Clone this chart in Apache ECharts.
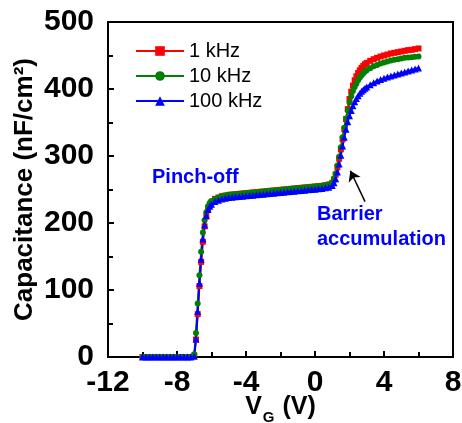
<!DOCTYPE html>
<html>
<head>
<meta charset="utf-8">
<script src="https://cdn.jsdelivr.net/npm/echarts@6/dist/echarts.min.js"></script>
<style>
  html, body { margin: 0; padding: 0; background: #fff; }
  #container { width: 462px; height: 423px; }
</style>
</head>
<body>
<div id="container"></div>
<script>
// gate voltage (V)
var vg = [
  -10.0, -9.8, -9.6, -9.4, -9.2, -9.0, -8.8, -8.6, -8.4, -8.2, -8.0, -7.8, -7.6, -7.4, -7.2,
  -7.0, -6.9, -6.8, -6.7, -6.6, -6.5, -6.4, -6.3, -6.2, -6.1, -6.0,
  -5.8, -5.6, -5.4, -5.2, -5.0, -4.8, -4.6, -4.4, -4.2, -4.0, -3.8, -3.6, -3.4, -3.2, -3.0,
  -2.8, -2.6, -2.4, -2.2, -2.0, -1.8, -1.6, -1.4, -1.2, -1.0, -0.8, -0.6, -0.4, -0.2, 0.0,
  0.2, 0.4, 0.6, 0.8,
  1.0, 1.1, 1.2, 1.3, 1.4, 1.5, 1.6, 1.7, 1.8, 1.9, 2.0, 2.1, 2.2, 2.3, 2.4, 2.5, 2.6, 2.7, 2.8, 2.9, 3.0,
  3.2, 3.4, 3.6, 3.8, 4.0, 4.2, 4.4, 4.6, 4.8, 5.0, 5.2, 5.4, 5.6, 5.8, 6.0
];
// capacitance (nF/cm2)
var c1k = [
  0, 0, 0, 0, 0, 0, 0, 0, 0, 0, 0, 0, 0, 0, 0,
  2, 26, 64, 106, 142, 172, 195, 210, 220, 227, 231,
  236, 238, 240, 241, 242, 242.5, 243, 243.5, 244, 244.5, 245, 245.5, 246, 246.5, 247,
  247.5, 248, 248.5, 249, 249.5, 250, 250.5, 251, 251.5, 252, 252.5, 253, 253.5, 254, 254.5,
  255, 255.5, 256.5, 257.5,
  260, 265, 272, 283, 296, 310, 325, 340, 355, 370, 385, 396, 405, 413, 419, 424, 428, 431.5, 434.5, 437, 439,
  442, 444.5, 446.5, 448.5, 450, 451.5, 453, 454, 455, 456, 457, 458, 458.5, 459.5, 460.5
];
var c10k = [
  0, 0, 0, 0, 0, 0, 0, 0, 0, 0, 0, 0, 0, 0, 0,
  4, 36, 80, 122, 157, 186, 204, 216, 225, 230, 233,
  236, 238, 240, 241, 242, 242.5, 243, 243.5, 244, 244.5, 245, 245.5, 246, 246.5, 247,
  247.5, 248, 248.5, 249, 249.5, 250, 250.5, 251, 251.5, 252, 252.5, 253, 253.5, 254, 254.5,
  255, 255.5, 256.5, 257.5,
  260, 266, 274, 286, 299, 313, 328, 342, 356, 368, 380, 389, 397, 403, 408, 413, 417, 420.5, 423.5, 426, 428,
  431, 434, 436, 438, 439.5, 441, 442.5, 443.5, 444.5, 445.5, 446.5, 447, 447.5, 448, 448.5
];
var c100k = [
  0, 0, 0, 0, 0, 0, 0, 0, 0, 0, 0, 0, 0, 0, 0,
  1, 27, 68, 110, 146, 176, 197, 211, 220, 225, 228,
  232, 234, 236, 237, 238, 238.5, 239, 239.5, 240, 240.5, 241, 241.5, 242, 242.5, 243,
  243.5, 244, 244.5, 245, 245.5, 246, 246.5, 247, 247.5, 248, 248.5, 249, 249.5, 250, 250.5,
  251, 251.5, 252.5, 253.5,
  256, 260, 266, 276, 288, 301, 315, 328, 340, 351, 360, 368, 375, 381, 386, 390, 393.5, 396.5, 399, 401, 403,
  406.5, 409.5, 412, 414, 416, 418, 419.5, 421, 422.5, 424, 425.5, 427, 428.5, 430, 431.5
];
var names = ['1 kHz', '10 kHz', '100 kHz'];

function pairs(ys) {
  return vg.map(function (v, i) { return [v, ys[i]]; });
}

var font = "'Liberation Sans', Arial, sans-serif";
var dom = document.getElementById('container');
var myChart = echarts.init(dom);

var option = {
  animation: false,
  textStyle: { fontFamily: font },
  grid: {
    left: 108, right: 9, top: 22, bottom: 66,
    outerBoundsMode: 'none',
    containLabel: false,
    show: true, borderColor: '#000', borderWidth: 2, backgroundColor: 'transparent'
  },
  legend: {
    orient: 'vertical',
    left: 130, top: 36,
    itemWidth: 48, itemHeight: 12, itemGap: 5,
    textStyle: { fontSize: 20, color: '#000', fontFamily: font },
    data: names
  },
  xAxis: {
    type: 'value',
    min: -12, max: 8, interval: 4,
    name: '{v|V}{s|G}{v| (V)}',
    nameLocation: 'middle',
    nameGap: 38,
    nameMoveOverlap: false,
    nameTextStyle: {
      rich: {
        v: { fontSize: 25, fontWeight: 'bold', color: '#000', fontFamily: font, lineHeight: 30, verticalAlign: 'top' },
        s: { fontSize: 15, fontWeight: 'bold', color: '#000', fontFamily: font, lineHeight: 30, verticalAlign: 'bottom', padding: [0, 1, 0, 1] }
      }
    },
    axisLine: { onZero: false, lineStyle: { color: '#000', width: 2 } },
    axisTick: { inside: true, length: 6, lineStyle: { color: '#000', width: 2 } },
    minorTick: { show: true, splitNumber: 2, length: 5, lineStyle: { color: '#000', width: 2 } },
    splitLine: { show: false },
    axisLabel: { fontSize: 30, fontWeight: 'bold', color: '#000', margin: 11, fontFamily: font }
  },
  yAxis: {
    type: 'value',
    min: 0, max: 500, interval: 100,
    name: 'Capacitance (nF/cm²)',
    nameLocation: 'middle',
    nameGap: 70,
    nameMoveOverlap: false,
    nameTextStyle: { fontSize: 26, fontWeight: 'bold', color: '#000', fontFamily: font },
    axisLine: { onZero: false, lineStyle: { color: '#000', width: 2 } },
    axisTick: { inside: true, length: 6, lineStyle: { color: '#000', width: 2 } },
    minorTick: { show: true, splitNumber: 2, length: 5, lineStyle: { color: '#000', width: 2 } },
    splitLine: { show: false },
    axisLabel: { fontSize: 30, fontWeight: 'bold', color: '#000', margin: 14, fontFamily: font }
  },
  series: [{
    name: names[0],
    type: 'line',
    data: pairs(c1k),
    symbol: 'rect',
    symbolSize: 6,
    color: '#ff0000',
    lineStyle: { width: 2 }
  }, {
    name: names[1],
    type: 'line',
    data: pairs(c10k),
    symbol: 'circle',
    symbolSize: 6,
    color: '#008000',
    lineStyle: { width: 2 }
  }, {
    name: names[2],
    type: 'line',
    data: pairs(c100k),
    symbol: 'triangle',
    symbolSize: 7,
    color: '#0000ff',
    lineStyle: { width: 2 },
    markLine: {
      silent: true,
      symbol: ['none', 'arrow'],
      symbolSize: 10,
      label: { show: false },
      lineStyle: { color: '#000', width: 1.5, type: 'solid' },
      data: [[{ coord: [2.9, 232] }, { coord: [2.05, 278] }]]
    }
  }],
  graphic: [{
    type: 'text', left: 152, top: 167,
    style: { text: 'Pinch-off', fill: '#0000ff', font: 'bold 20px ' + font }
  }, {
    type: 'text', left: 317, top: 204,
    style: { text: 'Barrier', fill: '#0000ff', font: 'bold 20px ' + font }
  }, {
    type: 'text', left: 317, top: 229,
    style: { text: 'accumulation', fill: '#0000ff', font: 'bold 20px ' + font }
  }]
};

if (option && typeof option === "object") {
  myChart.setOption(option, true);
}
</script>
</body>
</html>
